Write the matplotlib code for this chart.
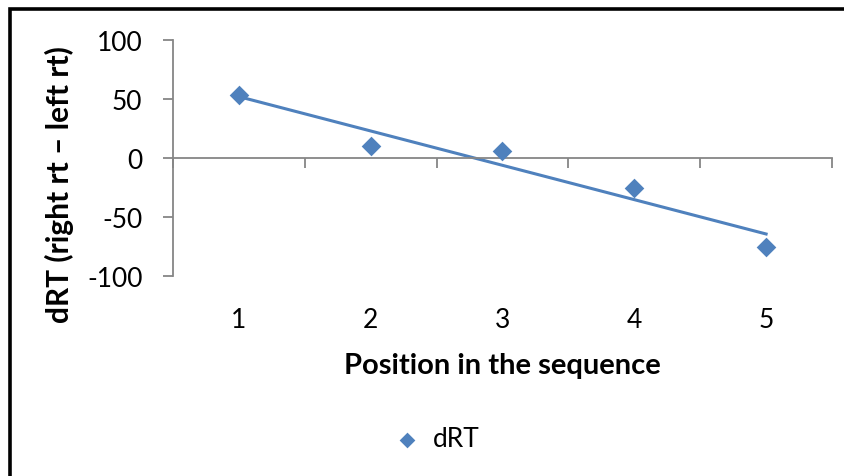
import numpy as np
import matplotlib
matplotlib.use("Agg")
import matplotlib.pyplot as plt
from matplotlib.patches import Rectangle

# dRT per position in the sequence
positions = [1, 2, 3, 4, 5]
drt = [53, 10, 6, -25, -75]
pos_labels = ["1", "2", "3", "4", "5"]
y_ticks = [-100, -50, 0, 50, 100]

blue = "#4F81BD"
axis_grey = "#868686"

plt.rcParams["font.family"] = ["Lato", "DejaVu Sans"]
plt.rcParams["axes.unicode_minus"] = False

fig = plt.figure(figsize=(8.45, 4.77), dpi=100)
ax = fig.add_axes([173 / 845, 1 - 277 / 477, 659 / 845, 236 / 477])

ax.scatter(positions, drt, marker="D", s=100, color=blue, zorder=3, label="dRT",
           linewidths=0)

# linear trendline across the data range
slope, icpt = np.polyfit(positions, drt, 1)
xs = np.array([positions[0], positions[-1]])
ax.plot(xs, slope * xs + icpt, color=blue, lw=2.2, zorder=2)

ax.set_xlim(0.5, 5.5)
ax.set_ylim(-100, 100)

for s in ["top", "right"]:
    ax.spines[s].set_visible(False)
ax.spines["left"].set_color(axis_grey)
ax.spines["bottom"].set_color(axis_grey)
ax.spines["bottom"].set_position(("data", 0))
ax.spines["left"].set_linewidth(1.3)
ax.spines["bottom"].set_linewidth(1.3)

ax.set_yticks(y_ticks)
ax.tick_params(axis="y", direction="out", length=7, width=1.3, color=axis_grey,
               pad=15, labelsize=19)

# category boundaries as tick marks on the zero line
ax.set_xticks(np.arange(0.5, 6.0, 1.0))
ax.set_xticklabels([])
ax.tick_params(axis="x", direction="out", length=7, width=1.3, color=axis_grey)

sec = ax.secondary_xaxis("bottom")
sec.spines["bottom"].set_visible(False)
sec.set_xticks(positions)
sec.set_xticklabels(pos_labels)
sec.tick_params(length=0, pad=22, labelsize=19)

ax.set_ylabel("dRT (right rt \u2013 left rt)", fontsize=21.5, fontweight="bold")
ax.yaxis.set_label_coords(-0.15, 0.39)
fig.text(502 / 845, 1 - 366 / 477, "Position in the sequence", fontsize=21,
         fontweight="bold", ha="center", va="center")

fig.legend(handles=[ax.collections[0]], loc="center",
           bbox_to_anchor=(430 / 845, 1 - 440 / 477), frameon=False,
           fontsize=19, handletextpad=0.0, markerscale=0.8)

# chart frame
fig.patches.append(Rectangle((10 / 845, -0.1), 1.2, 1.1 - 10 / 477,
                             transform=fig.transFigure, fill=False,
                             edgecolor="black", lw=2.6))

fig.savefig("out.png", dpi=100)
